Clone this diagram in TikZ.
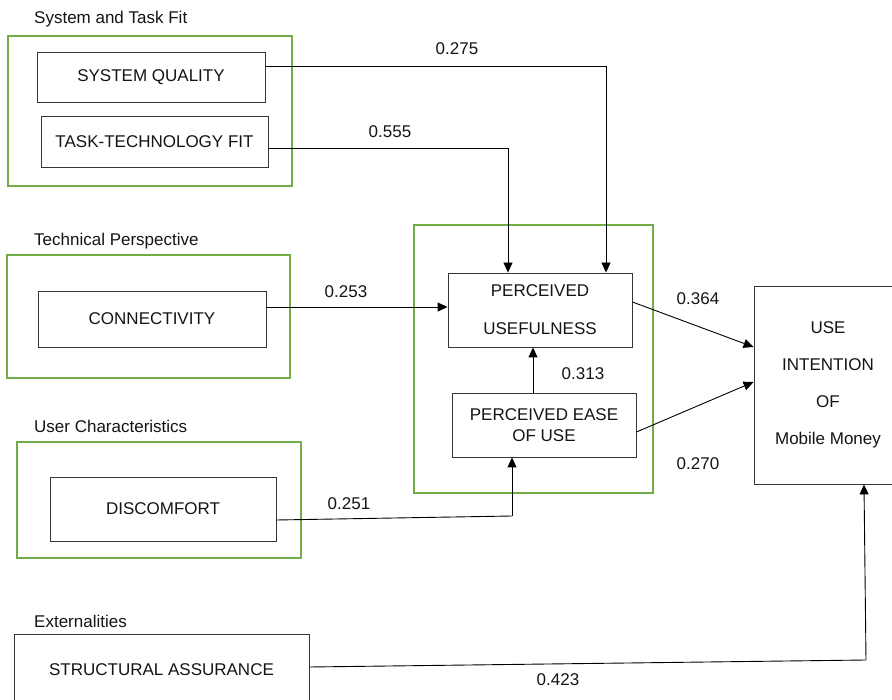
\documentclass[tikz,border=0pt]{standalone}
\usepackage{fontspec}
\setmainfont{Liberation Sans}
\usetikzlibrary{arrows.meta}
\definecolor{grp}{RGB}{112,173,71}
\definecolor{ink}{RGB}{20,20,20}
\begin{document}
\begin{tikzpicture}[x=1pt,y=-1pt,
  every node/.style={font=\fontsize{17}{20}\selectfont, text=ink},
  box/.style={draw=ink!85, line width=0.9pt, rectangle, inner sep=0pt, align=center},
  grpbox/.style={draw=grp, line width=1.8pt, rectangle, inner sep=0pt},
  lbl/.style={anchor=base, inner sep=0pt},
  title/.style={anchor=base west, inner sep=0pt},
  link/.style={draw=black, line width=0.9pt, -{Triangle[length=10pt,width=9pt]}},
  plain/.style={draw=black, line width=0.9pt}]
\useasboundingbox (0,0) rectangle (892,700);
\clip (0,0) rectangle (892,700);
% groups
\node[grpbox, minimum width=284, minimum height=150] (g1) at (150,111) {};
\node[grpbox, minimum width=283, minimum height=123] (g2) at (148.5,316.5) {};
\node[grpbox, minimum width=284, minimum height=116] (g3) at (159,500) {};
\node[grpbox, minimum width=239, minimum height=268] (gc) at (533.5,359) {};
% titles
\node[title] (t1) at (34,24) {System and Task Fit};
\node[title] (t2) at (34,246) {Technical Perspective};
\node[title] (t3) at (34,433) {User Characteristics};
\node[title] (t4) at (34,627) {Externalities};
% boxes
\node[box, minimum width=228, minimum height=50] (sq) at (151,77) {SYSTEM QUALITY};
\node[box, minimum width=227, minimum height=51] (ttf) at (154.5,141.5) {TASK-TECHNOLOGY FIT};
\node[box, minimum width=228, minimum height=56] (conn) at (152,319) {CONNECTIVITY};
\node[box, minimum width=226, minimum height=64] (disc) at (163,509) {DISCOMFORT};
\node[box, minimum width=295, minimum height=76] (sa) at (161.5,672) {\raisebox{5pt}{STRUCTURAL ASSURANCE}};
\node[box, minimum width=184, minimum height=74, font=\fontsize{17}{38}\selectfont] (pu) at (540,310) {PERCEIVED\\USEFULNESS};
\node[box, minimum width=184, minimum height=64, font=\fontsize{17}{21}\selectfont] (peou) at (544,425) {PERCEIVED EASE\\OF USE};
\node[box, minimum width=148, minimum height=198, font=\fontsize{17}{37}\selectfont] (use) at (828,385) {USE\\INTENTION\\OF\\Mobile Money};
% connectors
\draw[link] ([yshift=11pt]sq.east) -| ([xshift=66pt]pu.north);
\draw[link] ([yshift=-6.5pt]ttf.east) -| ([xshift=-32pt]pu.north);
\draw[link] ([yshift=12pt]conn.east) -- ([yshift=12pt]conn.east -| pu.west);
\draw[link] ([xshift=-11pt]peou.north) -- ([xshift=-11pt]peou.north |- pu.south);
\draw[link] ([yshift=8pt]pu.east) -- ([yshift=38pt]use.west);
\draw[link] ([yshift=-7pt]peou.east) -- ([yshift=3pt]use.west);
\coordinate (c251) at (512,516);
\draw[plain] ([yshift=-11pt]disc.east) -- (c251);
\draw[link] (c251) -- ([xshift=-32pt]peou.south);
\coordinate (c423) at (866,660);
\draw[plain] ([yshift=5pt]sa.east) -- (c423);
\draw[link] (c423) -- ([xshift=36pt]use.south);
% labels
\node[lbl] (l275) at (457,55) {0.275};
\node[lbl] (l555) at (390,138) {0.555};
\node[lbl] (l253) at (346,298) {0.253};
\node[lbl] (l313) at (583,380) {0.313};
\node[lbl] (l364) at (698,305) {0.364};
\node[lbl] (l270) at (698,470) {0.270};
\node[lbl] (l251) at (349,509) {0.251};
\node[lbl] (l423) at (558,685) {0.423};
\end{tikzpicture}
\end{document}
